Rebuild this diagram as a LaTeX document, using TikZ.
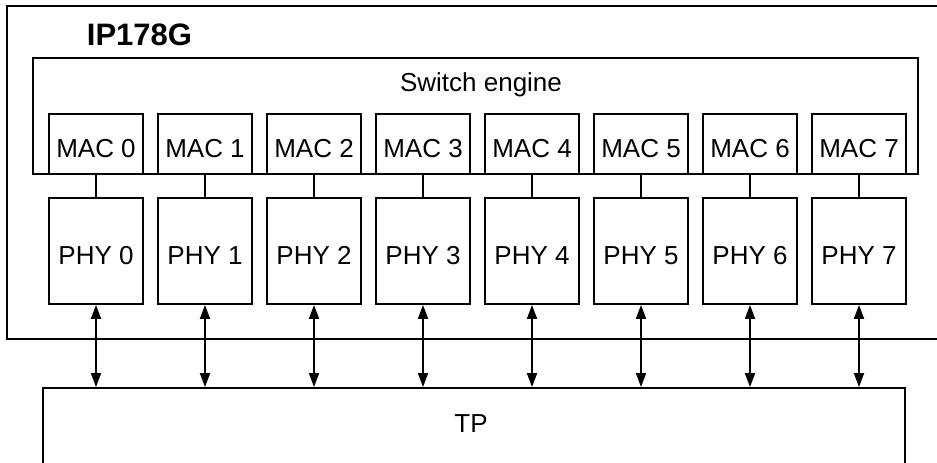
\documentclass[tikz,border=0pt]{standalone}
\usepackage{fontspec}
\setmainfont{Liberation Sans}
\usetikzlibrary{arrows.meta}
\begin{document}
\begin{tikzpicture}[x=0.75pt,y=-0.75pt,
  box/.style={draw, line width=1.4pt, inner sep=0pt, font=\fontsize{19.5}{21}\selectfont},
  blk/.style={box, minimum width=70.5pt, text height=20.25pt, text depth=0pt},
  mac/.style={blk, minimum height=45pt},
  phy/.style={blk, minimum height=79.5pt},
  lbl/.style={font=\fontsize{19.5}{21}\selectfont, anchor=base, inner sep=0pt},
  link/.style={line width=1.1pt},
  bus/.style={line width=1.4pt, {Triangle[length=10.5pt,width=7.5pt]}-{Triangle[length=10.5pt,width=7.5pt]}}]
\useasboundingbox (0,0) rectangle (937,462);
\clip (0,0) rectangle (937,462);
\node[box, minimum width=714.75pt, minimum height=249.75pt] (chip) at (483.5,172.5) {};
\node[lbl, font=\fontsize{23.25}{25}\selectfont\bfseries] (chiplbl) at (139.5,45) {IP178G};
\node[box, minimum width=663.75pt, minimum height=87pt] (se) at (475.5,116) {};
\node[lbl] (selbl) at (481,91) {Switch engine};
\node[box, minimum width=646.5pt, minimum height=69pt] (tp) at (474,434) {};
\node[lbl] (tplbl) at (471,432) {TP};
\foreach \k in {0,...,7}{
  \node[mac] (mac\k) at ({96+109*\k},144) {MAC \k};
  \node[phy] (phy\k) at ({96+109*\k},251) {PHY \k};
  \draw[link] (mac\k.south) -- (phy\k.north);
  \draw[bus] (phy\k.south) -- (phy\k.south |- tp.north);
}
\end{tikzpicture}
\end{document}
